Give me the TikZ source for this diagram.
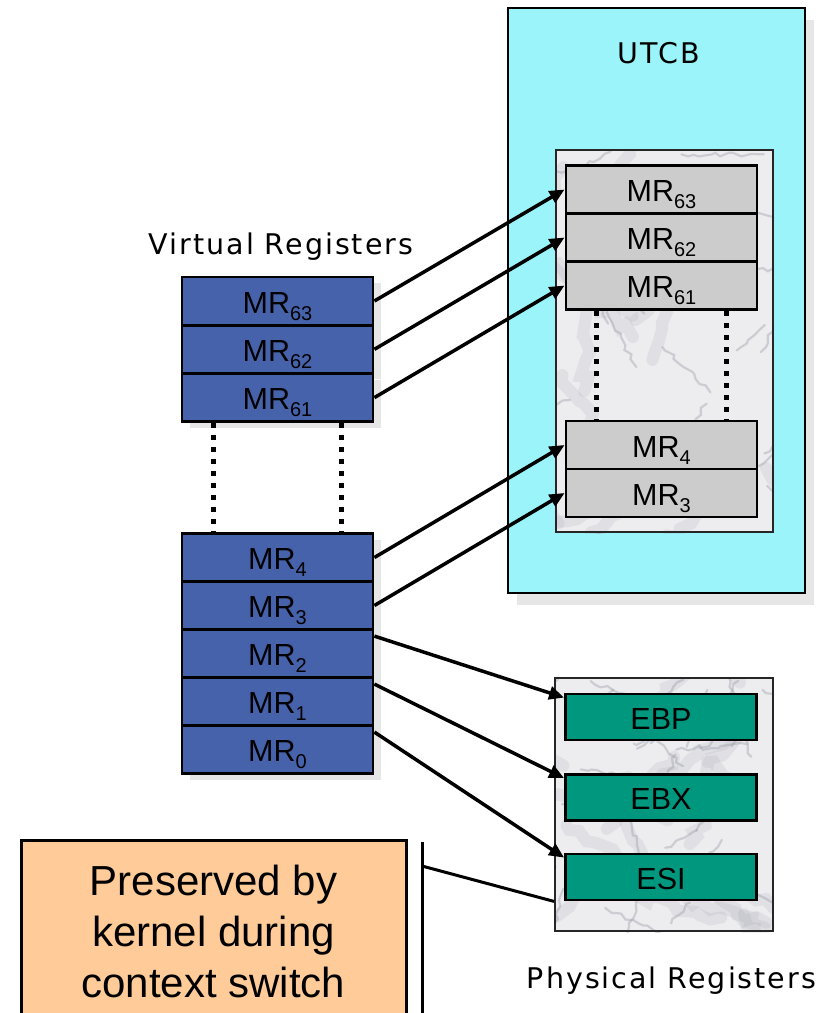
\documentclass[tikz,border=0pt]{standalone}
\usepackage{fontspec}
\setmainfont{Liberation Sans}
\newfontfamily\labelfont[LetterSpace=7]{DejaVu Sans}
\usetikzlibrary{arrows.meta,shadows,decorations.pathmorphing}

\definecolor{utcbcyan}{HTML}{9AF4FA}
\definecolor{vregblue}{HTML}{4662AA}
\definecolor{mrgray}{HTML}{CCCCCC}
\definecolor{physteal}{HTML}{00977F}
\definecolor{noteorange}{HTML}{FFCC99}
\definecolor{shadowgray}{HTML}{E6E6E6}
\definecolor{marblebase}{HTML}{EDEDF0}
\definecolor{veingray}{HTML}{9C9CA8}

% register subscript, smaller and lowered
\newcommand{\regsub}[1]{\raisebox{-7pt}{\fontsize{20}{20}\selectfont #1}}

% marble-like texture inside a rectangle (x1,y1,x2,y2)
\newcommand{\marblefill}[4]{%
  \begin{scope}
    \clip (#1,#2) rectangle (#3,#4);
    \fill[marblebase] (#1,#2) rectangle (#3,#4);
    \foreach \k in {1,...,18}{%
      \pgfmathsetmacro{\ax}{#1+rnd*(#3-#1)}%
      \pgfmathsetmacro{\ay}{#2+rnd*(#4-#2)}%
      \pgfmathsetmacro{\ang}{rnd*360}%
      \pgfmathsetmacro{\len}{50+rnd*90}%
      \draw[haze] (\ax,\ay) -- ++(\ang:\len);
    }
    \foreach \k in {1,...,30}{%
      \pgfmathsetmacro{\ax}{#1+rnd*(#3-#1)}%
      \pgfmathsetmacro{\ay}{#2+rnd*(#4-#2)}%
      \pgfmathsetmacro{\ang}{rnd*360}%
      \pgfmathsetmacro{\len}{25+rnd*70}%
      \draw[vein] (\ax,\ay) -- ++(\ang:\len);
    }
  \end{scope}}

\begin{document}
\begin{tikzpicture}[x=1pt,y=-1pt,
  reg/.style={draw=black, line width=2.8pt, minimum width=191pt,
    minimum height=48pt, inner sep=0pt, text height=24pt, text depth=0pt,
    font=\fontsize{30.5}{36}\selectfont},
  vreg/.style={reg, fill=vregblue,
    drop shadow={shadow xshift=8pt, shadow yshift=-6pt, fill=shadowgray, opacity=1}},
  ureg/.style={reg, fill=mrgray},
  preg/.style={reg, fill=physteal, minimum height=46pt},
  bank/.style={draw=black!85, line width=2pt, inner sep=0pt},
  utcbbox/.style={draw=black, line width=2.4pt, fill=utcbcyan, inner sep=0pt,
    drop shadow={shadow xshift=9pt, shadow yshift=-12pt, fill=shadowgray, opacity=1}},
  notebox/.style={draw=black, line width=3pt, fill=noteorange, align=center,
    inner sep=0pt, font=\fontsize{42}{51}\selectfont},
  caption/.style={anchor=base, inner sep=0pt, font=\labelfont\fontsize{28.5}{34}\selectfont},
  gap/.style={line width=5pt, dash pattern=on 5pt off 7pt},
  conn/.style={line width=3.5pt, -{Triangle[length=15pt,width=13pt]}},
  bracket/.style={line width=3pt},
  vein/.style={veingray, line width=2.2pt, opacity=0.4, line cap=round,
    decorate, decoration={random steps, segment length=6pt, amplitude=2.5pt}},
  haze/.style={veingray, line width=12pt, opacity=0.16, line cap=round,
    decorate, decoration={random steps, segment length=10pt, amplitude=5pt}},
]
\pgfmathsetseed{12}
\useasboundingbox (0,0) rectangle (831,1013);
\fill[white] (0,0) rectangle (831,1013);

% UTCB container
\node[utcbbox, minimum width=297pt, minimum height=585pt] (utcb) at (656.5,300.5) {};
\node[caption] (utcbtitle) at (659,63) {UTCB};

% marble register banks
\marblefill{555}{149}{774}{533}
\node[bank, minimum width=217pt, minimum height=382pt] (ubank) at (664.5,341) {};
\marblefill{554}{677}{774}{932}
\node[bank, minimum width=218pt, minimum height=253pt] (phys) at (664,804.5) {};

% virtual registers
\node[caption] (vtitle) at (281,254) {Virtual Registers};
\node[vreg] (v63) at (277.5,301)   {MR\regsub{63}};
\node[vreg] (v62) at (277.5,349.3) {MR\regsub{62}};
\node[vreg] (v61) at (277.5,397.6) {MR\regsub{61}};
\node[vreg] (v4)  at (277.5,557.5) {MR\regsub{4}};
\node[vreg] (v3)  at (277.5,605.5) {MR\regsub{3}};
\node[vreg] (v2)  at (277.5,653.5) {MR\regsub{2}};
\node[vreg] (v1)  at (277.5,701.5) {MR\regsub{1}};
\node[vreg] (v0)  at (277.5,749.5) {MR\regsub{0}};

% registers held in the UTCB
\node[ureg] (u63) at (661.5,189.5) {MR\regsub{63}};
\node[ureg] (u62) at (661.5,237.5) {MR\regsub{62}};
\node[ureg] (u61) at (661.5,285.5) {MR\regsub{61}};
\node[ureg] (u4)  at (661.5,445)   {MR\regsub{4}};
\node[ureg] (u3)  at (661.5,493)   {MR\regsub{3}};

% physical registers
\node[preg] (ebp) at (661,717)   {EBP};
\node[preg] (ebx) at (661,797.5) {EBX};
\node[preg] (esi) at (661,877)   {ESI};
\node[caption] (ptitle) at (671.5,988) {Physical Registers};

% elided ranges
\draw[gap] ([xshift=33pt]v61.south west) -- ([xshift=33pt]v4.north west);
\draw[gap] ([xshift=-33pt]v61.south east) -- ([xshift=-33pt]v4.north east);
\draw[gap] ([xshift=32pt]u61.south west) -- ([xshift=32pt]u4.north west);
\draw[gap] ([xshift=-32pt]u61.south east) -- ([xshift=-32pt]u4.north east);

% mappings into the UTCB
\draw[conn] (v63.east) -- (u63.west);
\draw[conn] (v62.east) -- (u62.west);
\draw[conn] (v61.east) -- (u61.west);
\draw[conn] (v4.east) -- (u4.west);
\draw[conn] (v3.east) -- (u3.west);

% mappings onto physical registers
\draw[conn] ([yshift=-8pt]v2.north east) -- ([yshift=-5pt]ebp.north west);
\draw[conn] ([yshift=-8pt]v1.north east) -- ([yshift=-5pt]ebx.north west);
\draw[conn] ([yshift=-8pt]v0.north east) -- ([yshift=-5pt]esi.north west);

% note about kernel preservation
\node[notebox, minimum width=385pt, minimum height=182pt] (note) at (213.5,931)
  {Preserved by\\kernel during\\context switch};
\coordinate (btop) at (422,842);
\coordinate (bbot) at (422,1030);
\coordinate (bknee) at (422,866);
\draw[bracket] (btop) -- (bbot);
\draw[bracket] (bknee) -- (phys.west |- esi.south);
\end{tikzpicture}
\end{document}
